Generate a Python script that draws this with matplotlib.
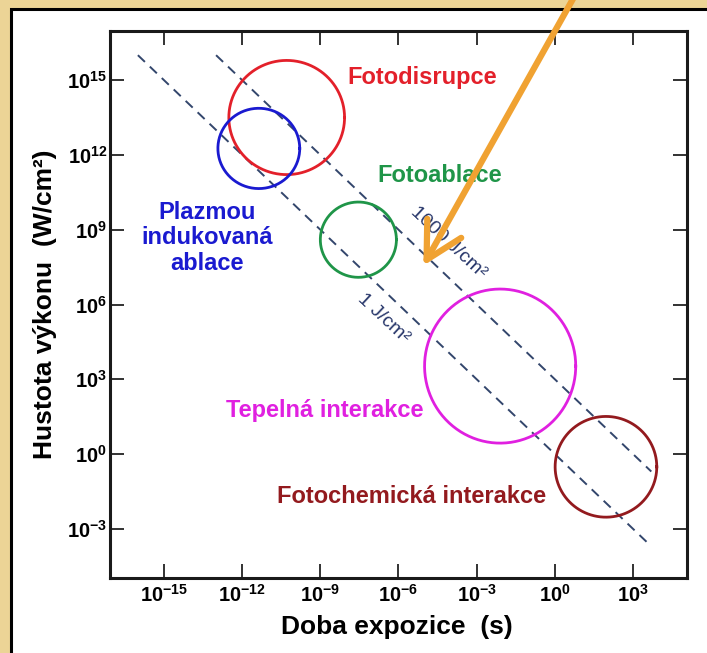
import numpy as np
import matplotlib.pyplot as plt
from matplotlib.patches import Rectangle, FancyArrowPatch

plt.rcParams['font.family'] = ['Liberation Sans', 'DejaVu Sans']
plt.rcParams['font.weight'] = 'bold'
plt.rcParams['mathtext.fontset'] = 'custom'
plt.rcParams['mathtext.rm'] = 'Liberation Sans:bold'
plt.rcParams['mathtext.it'] = 'Liberation Sans:bold'
plt.rcParams['mathtext.bf'] = 'Liberation Sans:bold'

# tick exponents
x_exp = [-15, -12, -9, -6, -3, 0, 3]
y_exp = [15, 12, 9, 6, 3, 0, -3]

# interaction regions: centre (log10 t, log10 I) and radius in decades
region_names = ['Fotodisrupce', 'Plazmou\nindukovaná\nablace', 'Fotoablace',
                'Tepelná interakce', 'Fotochemická interakce']
region_cx = [-10.29, -11.36, -7.54, -2.10, 1.96]
region_cy = [13.5, 12.26, 8.60, 3.53, -0.51]
region_rx = [2.22, 1.57, 1.46, 2.90, 1.95]
region_ry = [2.29, 1.61, 1.51, 3.09, 2.02]
region_colors = ['#e3202a', '#1a1ad0', '#1f9548', '#e020e0', '#931a1e']

# constant fluence lines (J/cm2) and their time span (log10 s)
fluence = [1, 1000]
fluence_labels = ['1 J/cm²', '1000 J/cm²']
t_start = [-16.0, -13.0]
t_end = [3.6, 3.7]

fig = plt.figure(figsize=(7.07, 6.53), dpi=100)
fig.patch.set_facecolor('#ecd496')
fig.add_artist(Rectangle((10.5 / 707, -0.02), 1.1, 0.9855 + 0.02,
                         transform=fig.transFigure, facecolor='white',
                         edgecolor='black', linewidth=2.2, zorder=0))

ax = fig.add_axes([110 / 707, 75 / 653, 577 / 707, 547 / 653])
ax.set_xscale('log')
ax.set_yscale('log')
ax.set_xlim(10 ** -17.07, 10 ** 5.07)
ax.set_ylim(10 ** -4.97, 10 ** 16.97)
ax.patch.set_alpha(0)

line_color = '#33466c'
for F, a, b in zip(fluence, t_start, t_end):
    t = np.array([10.0 ** a, 10.0 ** b])
    ax.plot(t, F / t, color=line_color, lw=1.4, dashes=(5, 3.5), zorder=1)

theta = np.linspace(0, 2 * np.pi, 300)
for cx, cy, rx, ry, c in zip(region_cx, region_cy, region_rx, region_ry, region_colors):
    ax.plot(10 ** (cx + rx * np.cos(theta)), 10 ** (cy + ry * np.sin(theta)),
            color=c, lw=2.0, zorder=2)

# region labels (axes fraction)
lab_pos = [(0.4107, 0.9159, 'left'), (0.1681, 0.6216, 'center'), (0.4627, 0.7367, 'left'),
           (0.2010, 0.3071, 'left'), (0.2894, 0.1481, 'left')]
for name, (px, py, ha), c in zip(region_names, lab_pos, region_colors):
    ax.text(px, py, name, transform=ax.transAxes, color=c, fontsize=17,
            fontweight='bold', ha=ha, va='center', linespacing=1.15)

ax.text(0.5858, 0.6124, fluence_labels[1], transform=ax.transAxes, color='#27366a',
        fontsize=14, fontweight='normal', rotation=-43, ha='center', va='center')
ax.text(0.4731, 0.4753, fluence_labels[0], transform=ax.transAxes, color='#27366a',
        fontsize=14, fontweight='normal', rotation=-43, ha='center', va='center')

ax.set_xticks([10.0 ** e for e in x_exp])
ax.set_xticklabels([rf'$10^{{{e}}}$' for e in x_exp])
ax.set_yticks([10.0 ** e for e in y_exp])
ax.set_yticklabels([rf'$10^{{{e}}}$' for e in y_exp])
ax.minorticks_off()
ax.tick_params(which='major', direction='in', length=10, width=1.3,
               top=True, right=True, labelsize=14.5, color='#222222')
ax.tick_params(axis='x', pad=4)
ax.tick_params(axis='y', pad=2)
for s in ax.spines.values():
    s.set_linewidth(2.2)
    s.set_color('#1a1a1a')

fig.text(397 / 707, 1 - 627 / 653, 'Doba expozice  (s)', fontsize=19,
         fontweight='bold', ha='center', va='center')
fig.text(45 / 707, 1 - 304 / 653, 'Hustota výkonu  (W/cm²)', fontsize=19,
         fontweight='bold', ha='center', va='center', rotation=90)

arrow = FancyArrowPatch((576 / 707, 1.01), (422 / 707, 1 - 268 / 653),
                        transform=fig.transFigure, color='#f0a232', lw=4.5,
                        arrowstyle='->,head_length=2.6,head_width=1.4',
                        mutation_scale=10, zorder=10)
fig.add_artist(arrow)

fig.savefig('out.png', dpi=100, facecolor=fig.get_facecolor())
